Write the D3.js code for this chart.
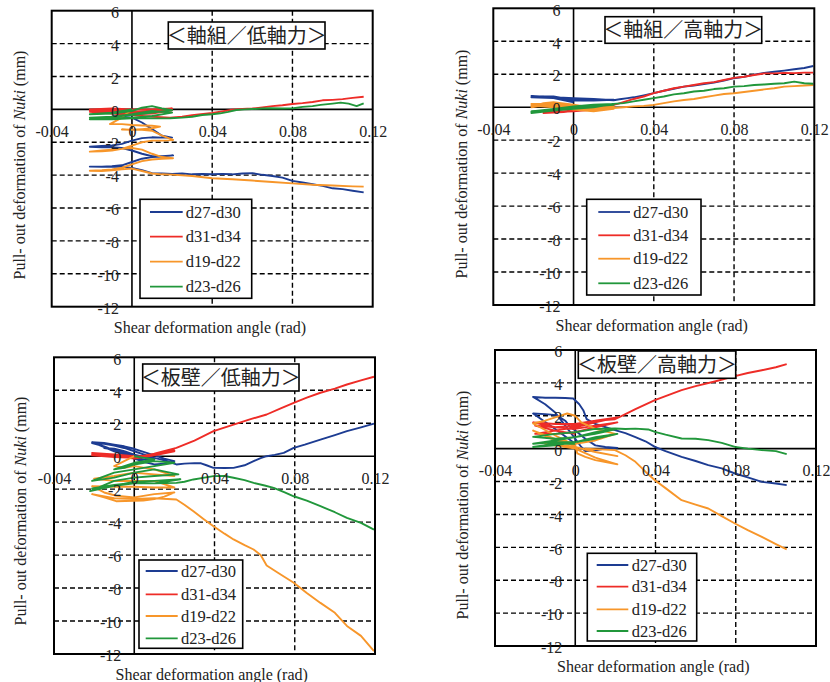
<!DOCTYPE html>
<html><head><meta charset="utf-8">
<script src="https://cdn.jsdelivr.net/npm/d3@7"></script>
<style>body{margin:0;background:#fff} svg{display:block}</style>
</head><body><svg id="c" width="830" height="682"></svg>
<script>
const xTicks=[-0.04,0,0.04,0.08,0.12];
const xTickLabels=["-0.04","0","0.04","0.08","0.12"];
const yTicks=[6,4,2,0,-2,-4,-6,-8,-10,-12];
const yTickLabels=["6","4","2","0","-2","-4","-6","-8","-10","-12"];
const seriesNames=["d27-d30","d31-d34","d19-d22","d23-d26"];
const panelTitles=["＜軸組／低軸力＞","＜軸組／高軸力＞","＜板壁／低軸力＞","＜板壁／高軸力＞"];
const xAxisTitle="Shear deformation angle (rad)";

// Panel 1 軸組／低軸力
const p1_d27=[[0,0],[-0.005,-0.3],[-0.01,-0.45],[-0.005,-0.45],[0,-0.5],[0.005,-0.8],[0.01,-1.2],[0.015,-1.6],[0.02,-1.72],[0.015,-1.72],[0.01,-1.7],[0.005,-1.75],[0,-1.9],[-0.005,-2.1],[-0.01,-2.2],[-0.015,-2.22],[-0.021,-2.27],[-0.015,-2.3],[-0.01,-2.3],[-0.005,-2.35],[0,-2.5],[0.005,-2.7],[0.01,-2.85],[0.015,-2.85],[0.0205,-2.8],[0.015,-2.87],[0.01,-2.9],[0.005,-3.0],[0,-3.2],[-0.005,-3.4],[-0.01,-3.45],[-0.015,-3.48],[-0.021,-3.48],[-0.015,-3.5],[-0.01,-3.5],[-0.005,-3.5],[0,-3.56],[0.005,-3.7],[0.01,-3.88],[0.015,-3.9],[0.02,-3.92],[0.025,-3.9],[0.03,-3.95],[0.035,-3.93],[0.04,-3.95],[0.045,-3.92],[0.05,-3.95],[0.055,-3.9],[0.06,-3.88],[0.065,-3.98],[0.07,-4.05],[0.075,-4.15],[0.08,-4.35],[0.085,-4.45],[0.09,-4.55],[0.095,-4.65],[0.1,-4.8],[0.105,-4.85],[0.11,-4.95],[0.1155,-5.05]];
const p1_d31=[[0,0],[-0.01,-0.05],[-0.021,0],[-0.01,0.05],[0,0],[0.01,0],[0.02,0.05],[0.01,-0.1],[0,-0.2],[-0.01,-0.15],[-0.021,-0.05],[-0.01,-0.1],[0,-0.15],[0.01,-0.1],[0.02,-0.05],[0.01,-0.25],[0,-0.3],[-0.01,-0.2],[-0.021,-0.15],[-0.01,-0.25],[0,-0.35],[0.01,-0.45],[0.019,-0.5],[0.025,-0.45],[0.03,-0.35],[0.0355,-0.28],[0.04,-0.22],[0.045,-0.12],[0.05,-0.02],[0.055,0.02],[0.06,0.05],[0.065,0.12],[0.07,0.2],[0.075,0.25],[0.08,0.33],[0.085,0.38],[0.09,0.45],[0.095,0.55],[0.1,0.58],[0.105,0.62],[0.11,0.7],[0.1155,0.77]];
const p1_d19=[[0,0],[-0.005,-0.5],[-0.011,-0.9],[-0.005,-0.9],[0,-0.95],[0.005,-0.98],[0.01,-1.0],[0.014,-1.05],[0.01,-1.15],[0.005,-1.2],[0,-1.25],[-0.005,-1.22],[0.005,-1.25],[0.01,-1.3],[0.015,-1.6],[0.0205,-1.86],[0.015,-1.9],[0.01,-1.9],[0.005,-2.0],[0,-2.2],[-0.005,-2.4],[-0.01,-2.5],[-0.015,-2.55],[-0.021,-2.57],[-0.015,-2.5],[-0.01,-2.45],[-0.005,-2.4],[0,-2.35],[0.005,-2.45],[0.01,-2.7],[0.015,-2.9],[0.0205,-2.97],[0.015,-3.0],[0.01,-3.05],[0.005,-3.15],[0,-3.35],[-0.005,-3.55],[-0.01,-3.65],[-0.015,-3.7],[-0.021,-3.73],[-0.015,-3.75],[-0.01,-3.7],[-0.005,-3.65],[0,-3.6],[0.005,-3.75],[0.01,-3.9],[0.015,-3.95],[0.02,-3.97],[0.03,-4.05],[0.04,-4.19],[0.05,-4.25],[0.06,-4.33],[0.07,-4.42],[0.08,-4.5],[0.09,-4.58],[0.1,-4.63],[0.11,-4.68],[0.1155,-4.7]];
const p1_d23=[[0,0],[-0.01,-0.2],[-0.021,-0.3],[-0.01,-0.25],[0,-0.1],[0.005,0.1],[0.01,0.2],[0.015,0.05],[0.02,-0.05],[0.01,-0.2],[0,-0.35],[-0.01,-0.45],[-0.021,-0.5],[-0.01,-0.45],[0,-0.3],[0.01,-0.1],[0.02,-0.2],[0.01,-0.4],[0,-0.5],[-0.01,-0.55],[-0.021,-0.6],[-0.01,-0.6],[0,-0.55],[0.01,-0.55],[0.019,-0.54],[0.025,-0.5],[0.03,-0.45],[0.035,-0.34],[0.04,-0.3],[0.044,-0.24],[0.048,-0.15],[0.052,-0.04],[0.056,0.0],[0.06,0.02],[0.065,0.05],[0.069,0.07],[0.075,0.05],[0.0805,0.07],[0.085,0.15],[0.09,0.2],[0.094,0.27],[0.1,0.35],[0.104,0.41],[0.108,0.35],[0.112,0.2],[0.1155,0.37]];

// Panel 2 軸組／高軸力
const p2_d27=[[0,0.3],[-0.01,0.55],[-0.021,0.6],[-0.015,0.65],[-0.01,0.65],[-0.005,0.55],[0,0.5],[0.01,0.45],[0.02,0.45],[0.01,0.4],[0,0.42],[-0.01,0.55],[-0.021,0.68],[-0.01,0.6],[0,0.55],[0.01,0.5],[0.02,0.42],[0.023,0.48],[0.027,0.55],[0.03,0.6],[0.035,0.72],[0.04,0.85],[0.045,1.0],[0.05,1.12],[0.055,1.25],[0.06,1.32],[0.065,1.4],[0.07,1.5],[0.075,1.62],[0.08,1.76],[0.085,1.85],[0.09,1.98],[0.095,2.08],[0.1,2.15],[0.105,2.22],[0.11,2.3],[0.115,2.38],[0.1195,2.5]];
const p2_d31=[[0,0],[-0.01,-0.2],[-0.015,-0.25],[-0.01,-0.3],[0,-0.25],[0.01,-0.15],[0.02,0.05],[0.01,-0.1],[0,-0.2],[-0.01,-0.3],[-0.015,-0.35],[-0.005,-0.3],[0.005,-0.15],[0.015,0.0],[0.022,0.2],[0.03,0.5],[0.035,0.65],[0.04,0.85],[0.045,1.0],[0.05,1.15],[0.055,1.25],[0.06,1.35],[0.065,1.45],[0.07,1.52],[0.075,1.65],[0.08,1.78],[0.085,1.85],[0.09,1.95],[0.095,2.05],[0.1,2.05],[0.105,2.08],[0.11,2.07],[0.115,2.1],[0.1195,2.1]];
const p2_d19=[[0,0],[-0.01,0.2],[-0.021,0.0],[-0.015,0.25],[-0.01,0.3],[0,0.15],[0.01,-0.05],[0.02,0.05],[0.01,-0.15],[0,-0.05],[-0.01,0.1],[-0.021,0.2],[-0.01,0.25],[0,0.05],[0.01,-0.2],[0.02,-0.1],[0.01,-0.25],[0,-0.15],[-0.01,0.0],[-0.021,0.1],[-0.01,0.15],[0,-0.05],[0.01,-0.15],[0.02,-0.05],[0.025,0.0],[0.03,0.05],[0.035,0.08],[0.04,0.14],[0.045,0.25],[0.05,0.35],[0.055,0.44],[0.06,0.5],[0.065,0.6],[0.07,0.7],[0.075,0.8],[0.08,0.85],[0.085,0.92],[0.09,1.0],[0.095,1.08],[0.1,1.15],[0.105,1.25],[0.11,1.28],[0.115,1.32],[0.1195,1.35]];
const p2_d23=[[0,0],[-0.01,-0.1],[-0.021,-0.3],[-0.01,-0.15],[0,0.0],[0.01,0.1],[0.02,0.2],[0.01,0.0],[0,-0.1],[-0.01,-0.2],[-0.021,-0.35],[-0.01,-0.2],[0,-0.05],[0.01,0.05],[0.02,0.15],[0.01,0.05],[0,-0.05],[-0.01,-0.15],[-0.021,-0.25],[-0.01,-0.1],[0,0.05],[0.01,0.15],[0.02,0.2],[0.025,0.25],[0.03,0.35],[0.035,0.45],[0.04,0.55],[0.045,0.65],[0.05,0.78],[0.055,0.85],[0.06,0.95],[0.065,1.0],[0.07,1.1],[0.075,1.15],[0.08,1.25],[0.085,1.28],[0.09,1.35],[0.095,1.38],[0.1,1.42],[0.105,1.45],[0.11,1.55],[0.115,1.45],[0.1195,1.42]];

// Panel 3 板壁／低軸力
const p3_d27=[[0,0],[-0.005,0.2],[-0.01,0.4],[-0.015,0.5],[-0.01,0.45],[-0.005,0.3],[0,0.1],[0.005,-0.05],[0.01,-0.15],[0.005,-0.2],[0,-0.1],[-0.005,0.1],[-0.01,0.3],[-0.015,0.55],[-0.021,0.85],[-0.015,0.8],[-0.01,0.7],[-0.005,0.6],[0,0.45],[0.005,0.25],[0.01,0.05],[0.015,-0.15],[0.02,-0.3],[0.015,-0.45],[0.01,-0.5],[0.005,-0.35],[0,-0.15],[-0.005,0.1],[-0.01,0.35],[-0.015,0.6],[-0.021,0.8],[-0.015,0.75],[-0.01,0.65],[-0.005,0.5],[0,0.3],[0.005,0.1],[0.01,-0.1],[0.015,-0.25],[0.021,-0.5],[0.025,-0.45],[0.03,-0.42],[0.0333,-0.43],[0.036,-0.55],[0.0395,-0.71],[0.045,-0.72],[0.0495,-0.71],[0.055,-0.55],[0.0595,-0.3],[0.063,-0.12],[0.066,0],[0.07,0.08],[0.0745,0.2],[0.0795,0.51],[0.085,0.7],[0.0928,1.01],[0.1,1.28],[0.106,1.52],[0.113,1.75],[0.1195,1.98]];
const p3_d31=[[0,0],[-0.01,0.1],[-0.021,0.2],[-0.01,0.1],[0,-0.05],[0.01,0.1],[0.02,0.3],[0.01,0.05],[0,-0.1],[-0.01,0.0],[-0.021,0.1],[-0.01,0.0],[0,-0.15],[0.01,0.05],[0.02,0.35],[0.01,0.1],[0,-0.1],[-0.01,-0.05],[-0.021,0.05],[-0.01,-0.05],[0,-0.1],[0.01,0.15],[0.021,0.51],[0.03,0.95],[0.0395,1.52],[0.0495,1.92],[0.058,2.25],[0.066,2.53],[0.073,2.9],[0.0795,3.24],[0.086,3.55],[0.0928,3.85],[0.1,4.1],[0.106,4.35],[0.113,4.6],[0.1195,4.82]];
const p3_d19=[[0,0],[-0.005,-0.3],[-0.01,-0.6],[-0.005,-0.7],[0,-0.6],[0.01,-0.8],[0.02,-1.2],[0.01,-1.1],[0,-1.0],[-0.01,-1.2],[-0.02,-1.37],[-0.01,-1.5],[0,-1.5],[0.01,-1.5],[0.02,-1.9],[0.01,-1.9],[0,-1.85],[-0.01,-1.85],[-0.021,-1.82],[-0.015,-2.2],[-0.009,-2.4],[0,-2.5],[0.01,-2.3],[0.02,-2.2],[0.015,-2.45],[0.01,-2.6],[0.0045,-2.69],[0,-2.7],[-0.009,-2.73],[-0.015,-2.5],[-0.021,-2.3],[-0.01,-2.55],[0,-2.6],[0.01,-2.55],[0.021,-2.63],[0.025,-2.95],[0.0295,-3.34],[0.035,-3.85],[0.0395,-4.25],[0.045,-4.7],[0.0495,-5.05],[0.055,-5.4],[0.0595,-5.66],[0.063,-6.0],[0.066,-6.63],[0.072,-7.1],[0.0795,-7.68],[0.086,-8.3],[0.0928,-8.9],[0.1,-9.5],[0.106,-10.3],[0.113,-10.9],[0.1195,-11.83]];
const p3_d23=[[0,0],[0.005,-0.1],[0.01,-0.2],[0.005,-0.3],[0,-0.4],[-0.005,-0.6],[-0.01,-0.8],[-0.005,-0.7],[0,-0.5],[0.01,-0.3],[0.02,-0.4],[0.01,-0.6],[0,-0.8],[-0.01,-1.0],[-0.021,-1.5],[-0.01,-1.3],[0,-1.0],[0.01,-0.8],[0.022,-1.1],[0.01,-1.2],[0,-1.3],[-0.01,-1.5],[-0.022,-2.12],[-0.01,-1.8],[0,-1.55],[0.01,-1.5],[0.023,-1.4],[0.015,-1.55],[0.01,-1.65],[0,-1.6],[-0.01,-1.75],[-0.021,-1.95],[-0.01,-1.8],[0,-1.65],[0.01,-1.65],[0.021,-1.62],[0.025,-1.55],[0.0295,-1.41],[0.035,-1.3],[0.0395,-1.21],[0.045,-1.2],[0.0495,-1.31],[0.055,-1.45],[0.0595,-1.62],[0.065,-1.78],[0.0695,-1.92],[0.075,-2.2],[0.0795,-2.43],[0.086,-2.7],[0.0928,-3.03],[0.1,-3.4],[0.106,-3.74],[0.113,-4.05],[0.1195,-4.45]];

// Panel 4 板壁／高軸力
const p4_d27=[[0,0.3],[-0.01,1.2],[-0.021,2.14],[-0.015,2.1],[-0.0093,2.04],[-0.005,1.7],[-0.0026,1.33],[0,1.1],[0.005,0.6],[0.01,0.2],[0.015,0.1],[0.021,0.05],[0.015,0.0],[0.01,-0.1],[0.005,-0.15],[0.003,0.1],[0,0.6],[-0.005,1.4],[-0.01,2.2],[-0.015,2.7],[-0.021,3.15],[-0.015,3.1],[-0.01,3.1],[-0.005,3.08],[-0.001,3.05],[0.002,2.7],[0.004,2.34],[0.0057,1.8],[0.01,1.5],[0.0198,1.13],[0.025,0.95],[0.03,0.7],[0.035,0.45],[0.0397,0.11],[0.045,-0.15],[0.053,-0.5],[0.06,-0.75],[0.0663,-1.0],[0.073,-1.2],[0.0796,-1.51],[0.086,-1.75],[0.093,-2.02],[0.1,-2.12],[0.1054,-2.22]];
const p4_d31=[[0,0.9],[-0.01,1.1],[-0.02,1.4],[-0.01,1.3],[0,1.2],[0.01,1.4],[0.021,1.6],[0.01,1.3],[0,1.0],[-0.01,0.9],[-0.02,0.9],[-0.01,1.1],[0,1.3],[0.01,1.6],[0.021,1.9],[0.01,1.7],[0,1.4],[-0.01,1.3],[-0.021,1.6],[-0.01,1.5],[0,1.5],[0.01,1.7],[0.0198,1.79],[0.025,2.1],[0.03,2.4],[0.0397,2.95],[0.045,3.2],[0.053,3.56],[0.06,3.8],[0.07,4.1],[0.0796,4.41],[0.086,4.6],[0.093,4.77],[0.1,4.95],[0.1054,5.14]];
const p4_d19=[[0,0.2],[-0.01,0.8],[-0.021,1.53],[-0.015,1.7],[-0.01,1.9],[-0.004,2.14],[0,2.0],[0.003,1.6],[0.01,1.2],[0.02,0.9],[0.01,0.5],[0,0.3],[-0.01,0.6],[-0.021,1.1],[-0.01,0.5],[0,0.2],[0.001,-0.28],[0.005,-0.5],[0.01,-0.7],[0.021,-0.95],[0.01,-0.55],[0,0.0],[-0.01,0.2],[-0.015,0.3],[-0.005,0.2],[0,0.1],[0.01,-0.2],[0.021,-0.45],[0.01,-0.2],[0.005,0.0],[0.0198,-0.09],[0.025,-0.4],[0.03,-0.8],[0.035,-1.4],[0.0397,-1.92],[0.045,-2.4],[0.053,-3.13],[0.06,-3.4],[0.0663,-3.64],[0.073,-4.1],[0.0796,-4.55],[0.086,-4.95],[0.093,-5.36],[0.1,-5.8],[0.1054,-6.13]];
const p4_d23=[[0,0.3],[-0.01,0.3],[-0.021,0.1],[-0.01,0.2],[0,0.4],[0.01,0.7],[0.021,0.9],[0.01,0.6],[0,0.4],[-0.01,0.4],[-0.021,0.3],[-0.01,0.5],[0,0.7],[0.01,1.0],[0.021,1.2],[0.01,0.9],[0,0.7],[-0.01,0.6],[-0.021,0.72],[-0.01,0.9],[0,1.0],[0.01,1.2],[0.0198,1.23],[0.025,1.2],[0.03,1.22],[0.0364,1.17],[0.0397,1.02],[0.045,0.85],[0.053,0.62],[0.06,0.6],[0.0663,0.52],[0.073,0.35],[0.0796,0.11],[0.086,0.0],[0.093,-0.09],[0.1,-0.15],[0.1054,-0.33]];

const panelData=[[p1_d27,p1_d31,p1_d19,p1_d23],[p2_d27,p2_d31,p2_d19,p2_d23],[p3_d27,p3_d31,p3_d19,p3_d23],[p4_d27,p4_d31,p4_d19,p4_d23]];
const colors=["#1d3c92","#ee2c27","#f7962a","#21973b"];

const layouts=[
 {f:{l:51.7,r:372.7,t:10.7,b:306.7},tb:{x:168.3,y:22,w:156.7,h:27},lg:{x:140,y:199.3,w:111.7,h:99,x1:150,x2:182.7,tx:185.7,rows:[212,236.7,261.7,286.7]},xt:{x:210,y:327},yt:{x:19,y:165}},
 {f:{l:493.3,r:814.3,t:8.3,b:305},tb:{x:605,y:16.7,w:156.7,h:26.6},lg:{x:586.7,y:199.3,w:114.3,h:95.7,x1:598.3,x2:630,tx:633.3,rows:[212,235.3,258.7,283.3]},xt:{x:651.7,y:325},yt:{x:461.7,y:164}},
 {f:{l:54,r:375,t:357.3,b:654},tb:{x:142.7,y:364,w:156.3,h:27},lg:{x:139,y:560,w:103.7,h:88.3,x1:145.7,x2:177.7,tx:181,rows:[571,594.3,616,638.3]},xt:{x:211.7,y:674},yt:{x:20.7,y:511}},
 {f:{l:495,r:816,t:350,b:646},tb:{x:578.3,y:351,w:157.4,h:27.3},lg:{x:587.3,y:553.3,w:109.4,h:87.7,x1:596.7,x2:628.3,tx:631.7,rows:[565,586.7,609.3,631]},xt:{x:653.3,y:666},yt:{x:462.7,y:505}}
];

const serif='"Liberation Serif","Times New Roman",serif';
const svg=d3.select("#c");

layouts.forEach((L,pi)=>{
  const f=L.f;
  const xs=d3.scaleLinear().domain([xTicks[0],xTicks[xTicks.length-1]]).range([f.l,f.r]);
  const ys=d3.scaleLinear().domain([yTicks[yTicks.length-1],yTicks[0]]).range([f.b,f.t]);
  const g=svg.append("g");
  xTicks.slice(1,-1).forEach(v=>{
    g.append("line").attr("x1",xs(v)).attr("x2",xs(v)).attr("y1",f.t).attr("y2",f.b)
     .attr("stroke","#000").attr("stroke-width",v===0?1.6:1.4).attr("stroke-dasharray",v===0?null:"5,3");
  });
  yTicks.slice(1,-1).forEach(v=>{
    g.append("line").attr("x1",f.l).attr("x2",f.r).attr("y1",ys(v)).attr("y2",ys(v))
     .attr("stroke","#000").attr("stroke-width",v===0?1.6:1.4).attr("stroke-dasharray",v===0?null:"5,3");
  });
  const line=d3.line().x(d=>xs(d[0])).y(d=>ys(d[1]));
  panelData[pi].forEach((s,si)=>{
    g.append("path").attr("d",line(s)).attr("fill","none").attr("stroke",colors[si])
     .attr("stroke-width",1.9).attr("stroke-linejoin","round");
  });
  g.append("rect").attr("x",f.l).attr("y",f.t).attr("width",f.r-f.l).attr("height",f.b-f.t)
   .attr("fill","none").attr("stroke","#000").attr("stroke-width",2);
  const ya=d3.axisLeft(ys).tickValues(yTicks).tickFormat((d,i)=>yTickLabels[i]).tickSize(0).tickPadding(13);
  const yg=g.append("g").attr("transform",`translate(${xs(0)},0)`).call(ya);
  yg.attr("font-family",serif).attr("font-size",16);
  yg.select(".domain").remove();
  yg.selectAll("text").attr("font-family",serif).attr("font-size",16).attr("fill","#222").attr("dy","0.42em");
  const xa=d3.axisBottom(xs).tickValues(xTicks).tickFormat((d,i)=>xTickLabels[i]).tickSize(0).tickPadding(16);
  const xg=g.append("g").attr("transform",`translate(0,${ys(0)})`).call(xa);
  xg.attr("font-family",serif).attr("font-size",16);
  xg.select(".domain").remove();
  xg.selectAll("text").attr("font-family",serif).attr("font-size",16).attr("fill","#222");
  g.append("text").attr("x",L.xt.x).attr("y",L.xt.y).attr("dy","0.35em").attr("text-anchor","middle")
   .attr("font-family",serif).attr("font-size",16).attr("fill","#222").text(xAxisTitle);
  const yt=g.append("text").attr("transform",`translate(${L.yt.x},${L.yt.y}) rotate(-90)`).attr("dy","0.35em")
   .attr("text-anchor","middle").attr("font-family",serif).attr("font-size",16).attr("fill","#222");
  yt.append("tspan").text("Pull- out deformation of ");
  yt.append("tspan").attr("font-style","italic").text("Nuki");
  yt.append("tspan").text(" (mm)");
  const tb=L.tb;
  g.append("rect").attr("x",tb.x).attr("y",tb.y).attr("width",tb.w).attr("height",tb.h)
   .attr("fill","#fff").attr("stroke","#000").attr("stroke-width",1.6);
  g.append("text").attr("x",tb.x+tb.w/2).attr("y",tb.y+tb.h/2).attr("dy","0.36em").attr("text-anchor","middle")
   .attr("font-family",'"Noto Sans CJK JP","Noto Sans CJK SC",sans-serif').attr("font-size",20).attr("fill","#222")
   .text(panelTitles[pi]);
  const lg=L.lg;
  g.append("rect").attr("x",lg.x).attr("y",lg.y).attr("width",lg.w).attr("height",lg.h)
   .attr("fill","#fff").attr("stroke","#000").attr("stroke-width",1.6);
  seriesNames.forEach((n,si)=>{
    g.append("line").attr("x1",lg.x1).attr("x2",lg.x2).attr("y1",lg.rows[si]).attr("y2",lg.rows[si])
     .attr("stroke",colors[si]).attr("stroke-width",1.8);
    g.append("text").attr("x",lg.tx).attr("y",lg.rows[si]).attr("dy","0.35em")
     .attr("font-family",serif).attr("font-size",16.5).attr("fill","#222").text(n);
  });
});
</script></body></html>
